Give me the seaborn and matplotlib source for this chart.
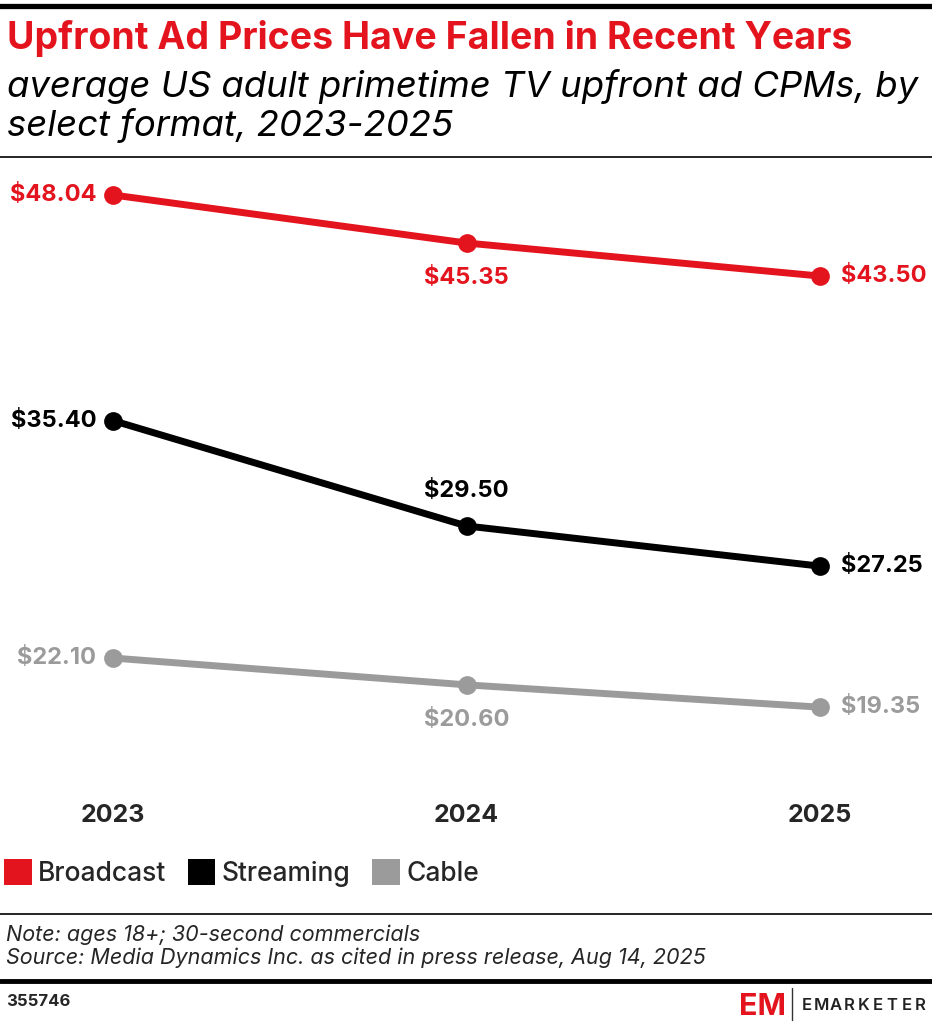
import seaborn as sns
import matplotlib.pyplot as plt
import pandas as pd
from matplotlib.patches import Patch
from matplotlib.lines import Line2D

# Dados do gráfico
years = [2023, 2024, 2025]
broadcast = [48.04, 45.35, 43.50]
streaming = [35.40, 29.50, 27.25]
cable = [22.10, 20.60, 19.35]
series_names = ['Broadcast', 'Streaming', 'Cable']
year_labels = ['2023', '2024', '2025']

RED = '#E4141E'
GRAY = '#9B9B9B'
colors = {'Broadcast': RED, 'Streaming': '#000000', 'Cable': GRAY}

df = pd.DataFrame({
    'year': years * 3,
    'cpm': broadcast + streaming + cable,
    'format': [n for n in series_names for _ in years],
})

sns.set_style('white')
plt.rcParams['font.family'] = ['Inter', 'DejaVu Sans']

W, H = 932, 1024
fig = plt.figure(figsize=(W / 100, H / 100), dpi=100)

def fy(px):
    return 1 - px / H

ax = fig.add_axes([0, fy(790), 1, 630 / H])
sns.lineplot(data=df, x='year', y='cpm', hue='format', palette=colors,
             marker='o', markersize=13.5, markeredgewidth=0, linewidth=5,
             legend=False, ax=ax)
ax.set_xlim(2022.68, 2025.317)
ax.set_ylim(14.71, 50.0)
ax.set_xticks(years)
ax.set_xticklabels(year_labels, fontsize=18, fontweight='bold')
ax.tick_params(axis='x', length=0, pad=10)
ax.set_yticks([])
ax.set_xlabel('')
ax.set_ylabel('')
for s in ax.spines.values():
    s.set_visible(False)

# rótulos de dados: posição de cada ponto (esquerda, acima/abaixo, direita)
placement = {
    'Broadcast': ['left', 'below', 'right'],
    'Streaming': ['left', 'above', 'right'],
    'Cable': ['left', 'below', 'right'],
}
values = {'Broadcast': broadcast, 'Streaming': streaming, 'Cable': cable}
for name in series_names:
    for x, v, pos in zip(years, values[name], placement[name]):
        if pos == 'left':
            off, ha, va = (-12, 0), 'right', 'center'
        elif pos == 'right':
            off, ha, va = (15, 0), 'left', 'center'
        elif pos == 'above':
            off, ha, va = (0, 25), 'center', 'center'
        else:
            off, ha, va = (0, -25), 'center', 'center'
        ax.annotate(f'${v:.2f}', (x, v), xytext=off, textcoords='offset points',
                    ha=ha, va=va, fontsize=17, fontweight='bold', color=colors[name])

# título e subtítulo
fig.add_artist(Line2D([0, 1], [fy(5.5), fy(5.5)], color='black', lw=3.8))
fig.text(7 / W, fy(49), 'Upfront Ad Prices Have Fallen in Recent Years',
         fontsize=27, fontweight='bold', color=RED, va='baseline')
fig.text(7 / W, fy(97), 'average US adult primetime TV upfront ad CPMs, by',
         fontsize=26.3, style='italic', color='black', va='baseline')
fig.text(7 / W, fy(136), 'select format, 2023-2025',
         fontsize=26.3, style='italic', color='black', va='baseline')
fig.add_artist(Line2D([0, 1], [fy(157), fy(157)], color='black', lw=1.2))

# legenda
handles = [Patch(facecolor=colors[n], edgecolor='none') for n in series_names]
fig.legend(handles, series_names, loc='center left', bbox_to_anchor=(4 / W, fy(873)),
           ncol=3, frameon=False, prop={'size': 19, 'weight': 'medium'},
           handlelength=1.05, handleheight=1.15, handletextpad=0.25,
           columnspacing=0.8, borderaxespad=0, borderpad=0)

# rodapé
fig.add_artist(Line2D([0, 1], [fy(914), fy(914)], color='black', lw=1.2))
fig.text(6 / W, fy(935), 'Note: ages 18+; 30-second commercials', fontsize=15.5,
         style='italic', va='center')
fig.text(6 / W, fy(958), 'Source: Media Dynamics Inc. as cited in press release, Aug 14, 2025',
         fontsize=15.5, style='italic', va='center')
fig.add_artist(Line2D([0, 1], [fy(981), fy(981)], color='black', lw=3.5))
fig.text(6 / W, fy(1001), '355746', fontsize=12, fontweight='bold', va='center')
fig.text(739 / W, fy(1015), 'EM', fontsize=22, fontweight='bold', color=RED,
         va='baseline', ha='left')
fig.add_artist(Line2D([792 / W, 792 / W], [fy(988), fy(1020)], color='#333333', lw=1))
for i, ch in enumerate('EMARKETER'):
    fig.text((807 + i * 14.2) / W, fy(1010), ch, fontsize=12, fontweight='semibold',
             color='#222222', va='baseline', ha='center')

fig.savefig('out.png', dpi=100)
